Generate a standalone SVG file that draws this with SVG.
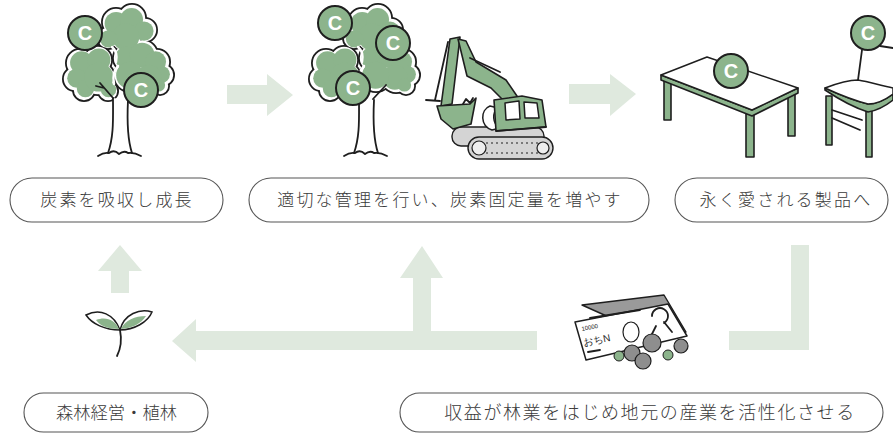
<svg xmlns="http://www.w3.org/2000/svg" width="893" height="434" viewBox="0 0 893 434">
  <style>
    .arrow { fill: #dfe9de; }
    .pill { fill: #ffffff; stroke: #555555; stroke-width: 1.1; }
    .label { font-family: "Noto Sans CJK JP", "Noto Sans", sans-serif; font-weight: 300; font-size: 17px; fill: #3a3a3a; text-anchor: middle; letter-spacing: 2.2px; }
    .ink { fill: none; stroke: #1e1e1e; stroke-width: 1.8; stroke-linecap: round; stroke-linejoin: round; }
    .leaf { fill: #8cb48c; }
    .coin { fill: #8cb48c; stroke: #1e1e1e; stroke-width: 2; }
    .coin-c { font-family: "Liberation Sans", "DejaVu Sans", sans-serif; font-size: 20px; font-weight: bold; fill: #ffffff; text-anchor: middle; }
    .green { fill: #8cb48c; stroke: #1e1e1e; stroke-width: 1.6; stroke-linejoin: round; }
    .grey { fill: #d4d4d4; stroke: #1e1e1e; stroke-width: 1.4; stroke-linejoin: round; }
    .paper { fill: #ffffff; stroke: #1e1e1e; stroke-width: 1.5; stroke-linejoin: round; }
    .dime { fill: #8e8e8e; stroke: #1e1e1e; stroke-width: 1.2; }
  </style>

  <defs>
    <!-- leafy canopy lobes; colours come from the referencing <use> -->
    <g id="canopy-shapes">
      <circle cx="116" cy="22" r="12"/>
      <circle cx="132" cy="18" r="12"/>
      <circle cx="145" cy="30" r="10"/>
      <circle cx="126" cy="36" r="14"/>
      <circle cx="108" cy="38" r="9"/>
      <circle cx="80" cy="63" r="12"/>
      <circle cx="75" cy="79" r="10"/>
      <circle cx="84" cy="90" r="9"/>
      <circle cx="98" cy="60" r="12"/>
      <circle cx="98" cy="78" r="15"/>
      <circle cx="108" cy="91" r="8"/>
      <circle cx="127" cy="58" r="12"/>
      <circle cx="143" cy="55" r="13"/>
      <circle cx="157" cy="62" r="11"/>
      <circle cx="163" cy="75" r="9"/>
      <circle cx="150" cy="78" r="13"/>
      <circle cx="130" cy="76" r="14"/>
      <circle cx="160" cy="86" r="7"/>
    </g>
    <g id="tree">
      <!-- dark outline pass, white gap pass, then a slightly shrunk green pass -->
      <use href="#canopy-shapes" fill="#1e1e1e" stroke="#1e1e1e" stroke-width="6"/>
      <use href="#canopy-shapes" fill="#ffffff" stroke="#ffffff" stroke-width="2.4"/>
      <use href="#canopy-shapes" fill="#8cb48c" stroke="none" transform="translate(120 58) scale(0.96) translate(-120 -58)"/>
      <!-- white gaps between leaf clusters -->
      <path d="M112,47 Q118,52 116,62 M118,66 Q112,72 114,84" fill="none" stroke="#ffffff" stroke-width="2.5" stroke-linecap="round"/>
      <!-- trunk -->
      <path d="M113,98 C113,118 114,136 108,153 L132,153 C127,138 127,120 128,100 Z" fill="#ffffff"/>
      <path class="ink" d="M113,98 C113,118 114,136 108,153"/>
      <path class="ink" d="M128,100 C127,120 127,138 132,153"/>
      <path class="ink" d="M113,98 L100,83 M104,88 L96,86"/>
      <path class="ink" d="M127,99 L140,85"/>
      <path class="ink" d="M98,156 Q104,152 109,153 Q114,149 119,154 Q124,150 128,153 Q134,152 141,156"/>
    </g>
  </defs>

  <!-- flow arrows -->
  <g id="connectors">
    <path class="arrow" d="M227,85 H267 V74 L293,95 L267,116 V104 H227 Z"/>
    <path class="arrow" d="M569,84 H610 V74 L636,94 L610,116 V104 H569 Z"/>
    <path class="arrow" d="M791,245 H809 V350 H729 V331 H791 Z"/>
    <path class="arrow" d="M537,331 V350 H196 V362 L172,341 L196,319 V331 H413 V278 H400 L422,246 L443,278 H431 V331 Z"/>
    <path class="arrow" d="M111,293 V271 H98 L120,245 L142,271 H129 V293 Z"/>
  </g>

  <!-- growing tree -->
  <g id="tree-grow">
    <use href="#tree"/>
    <circle class="coin" cx="85" cy="33" r="17"/>
    <text class="coin-c" x="85" y="40">C</text>
    <circle class="coin" cx="141" cy="90" r="17"/>
    <text class="coin-c" x="141" y="97">C</text>
  </g>

  <!-- managed tree -->
  <g id="tree-managed">
    <use href="#tree" transform="translate(246 0)"/>
    <circle class="coin" cx="335" cy="23" r="17"/>
    <text class="coin-c" x="335" y="30">C</text>
    <circle class="coin" cx="393" cy="43" r="17"/>
    <text class="coin-c" x="393" y="50">C</text>
    <circle class="coin" cx="353" cy="88" r="17"/>
    <text class="coin-c" x="353" y="95">C</text>
  </g>

  <!-- excavator -->
  <g id="excavator">
    <!-- crawler tracks -->
    <rect class="grey" x="452" y="127" width="92" height="19" rx="9"/>
    <rect class="grey" x="468" y="137" width="85" height="22" rx="11"/>
    <path d="M476,143 H546 M476,153 H546" fill="none" stroke="#1e1e1e" stroke-width="1" stroke-dasharray="2 3"/>
    <circle cx="479" cy="148" r="7" fill="#eeeeee" stroke="#1e1e1e" stroke-width="1.2"/>
    <circle cx="543" cy="148" r="6" fill="#eeeeee" stroke="#1e1e1e" stroke-width="1.2"/>
    <!-- stick -->
    <path class="green" d="M450,39 L460,37 L452,104 L441,106 Z"/>
    <path class="ink" d="M448,42 L435,100" stroke-width="1.2"/>
    <!-- boom -->
    <path class="green" d="M458,39 L466,41 L476,62 L506,80 L519,99 L507,104 L491,88 L467,76 Z"/>
    <path class="ink" d="M470,58 L500,72" stroke-width="1.2"/>
    <!-- bucket -->
    <path class="green" d="M437,106 L470,104 L476,98 L471,124 L453,129 L441,119 Z"/>
    <path class="ink" d="M463,104 L466,99 L470,103 L473,98" stroke-width="1.2"/>
    <path class="ink" d="M426,100 L440,101" stroke-width="1.2"/>
    <!-- counterweight -->
    <path class="paper" d="M490,106 C480,110 480,126 492,130 L500,128 C492,124 492,112 498,108 Z"/>
    <!-- cab and body -->
    <path class="green" d="M494,100 L522,96 L542,100 L546,127 L496,131 Z"/>
    <path class="paper" d="M505,103 L519,101 L520,119 L506,120 Z"/>
    <path class="paper" d="M524,102 L537,103 L539,118 L525,118 Z"/>
    <path class="ink" d="M496,131 L546,127" stroke-width="1.2"/>
  </g>

  <!-- table -->
  <g id="table">
    <path class="green" d="M664,80 H671 V120 H664 Z"/>
    <path class="green" d="M788,92 H795 V136 H788 Z"/>
    <path class="green" d="M746,114 H754 V157 H746 Z"/>
    <path class="green" d="M661,75 L752,110 L798,88 L798,93 L752,116 L661,80 Z"/>
    <path class="paper" d="M661,75 L707,57 L798,88 L752,110 Z"/>
    <circle class="coin" cx="731" cy="71" r="17"/>
    <text class="coin-c" x="731" y="78">C</text>
  </g>

  <!-- chair -->
  <g id="chair">
    <path class="green" d="M826,96 H832 V145 H826 Z"/>
    <path class="green" d="M866,111 H872 V157 H866 Z"/>
    <path class="ink" d="M832,118 L860,130 M832,110 L862,120" stroke-width="1.4"/>
    <path class="green" d="M825,90 C840,100 855,108 868,112 C880,110 888,104 893,100 L893,94 C885,100 876,104 868,104 C852,100 838,94 825,88 Z"/>
    <path class="paper" d="M825,88 C838,83 850,80 858,80 C870,82 882,86 893,88 L893,94 C885,100 876,104 868,104 C852,100 838,94 825,88 Z"/>
    <path class="ink" d="M862,50 L858,80"/>
    <path class="ink" d="M880,46 L893,48" stroke-width="1.4"/>
    <circle class="coin" cx="868" cy="33" r="17"/>
    <text class="coin-c" x="868" y="40">C</text>
  </g>

  <!-- sprout -->
  <g id="sprout">
    <path d="M86,315 C100,308 114,314 120,330 C105,330 92,324 86,315 Z" fill="#ffffff" stroke="#1e1e1e" stroke-width="1.5"/>
    <path d="M96,320 C106,316 115,320 119,329 C108,329 100,326 96,320 Z" class="leaf"/>
    <path d="M152,312 C140,308 124,314 120,330 C134,330 148,322 152,312 Z" fill="#ffffff" stroke="#1e1e1e" stroke-width="1.5"/>
    <path d="M146,316 C135,316 125,320 121,329 C132,328 141,324 146,316 Z" class="leaf"/>
    <path class="ink" d="M120,330 C122,340 121,348 117,356" stroke-width="1.5"/>
  </g>

  <!-- banknotes and coins -->
  <g id="money">
    <path d="M582,305 L664,295 L686,332 L660,340 Z" fill="#9a9a9a" stroke="#1e1e1e" stroke-width="1.4" stroke-linejoin="round"/>
    <path class="paper" d="M575,322 L668,304 L687,336 L586,360 Z"/>
    <path class="ink" d="M590,318 L640,310 M588,352 L600,350" stroke-width="1.1"/>
    <text x="582" y="331" font-family="Liberation Sans, sans-serif" font-size="6" fill="#1e1e1e" transform="rotate(-11 582 331)">10000</text>
    <text x="584" y="346" font-family="Liberation Sans, sans-serif" font-size="10" fill="#1e1e1e" transform="rotate(-11 584 346)">おちN</text>
    <ellipse cx="631" cy="332" rx="8" ry="10" fill="none" stroke="#1e1e1e" stroke-width="1.2"/>
    <path class="ink" d="M652,316 a8,8 0 1,1 12,7 M656,326 L650,338 M664,322 L672,332" stroke-width="1.1"/>
    <circle cx="619" cy="356" r="5" fill="#8cb48c" stroke="#1e1e1e" stroke-width="1"/>
    <circle cx="668" cy="355" r="5" fill="#8cb48c" stroke="#1e1e1e" stroke-width="1"/>
    <circle class="dime" cx="632" cy="353" r="8"/>
    <circle class="dime" cx="643" cy="361" r="8"/>
    <circle class="dime" cx="652" cy="343" r="9"/>
    <circle class="dime" cx="681" cy="346" r="7"/>
  </g>

  <!-- captions -->
  <g id="label-absorb">
    <rect class="pill" x="10" y="178" width="213" height="44" rx="22"/>
    <text class="label" x="117" y="206">炭素を吸収し成長</text>
  </g>
  <g id="label-manage">
    <rect class="pill" x="249" y="178" width="400" height="44" rx="22"/>
    <text class="label" x="450" y="206">適切な管理を行い、炭素固定量を増やす</text>
  </g>
  <g id="label-products">
    <rect class="pill" x="675" y="178" width="213" height="44" rx="22"/>
    <text class="label" x="786" y="206">永く愛される製品へ</text>
  </g>
  <g id="label-forestry">
    <rect class="pill" x="24" y="393" width="184" height="39" rx="19.5"/>
    <text class="label" x="56" y="419" style="text-anchor:start;letter-spacing:0" textLength="121" lengthAdjust="spacingAndGlyphs">森林経営・植林</text>
  </g>
  <g id="label-revenue">
    <rect class="pill" x="400" y="393" width="483" height="39" rx="19.5"/>
    <text class="label" x="650" y="419" style="letter-spacing:1.6px;font-size:18px">収益が林業をはじめ地元の産業を活性化させる</text>
  </g>
</svg>
